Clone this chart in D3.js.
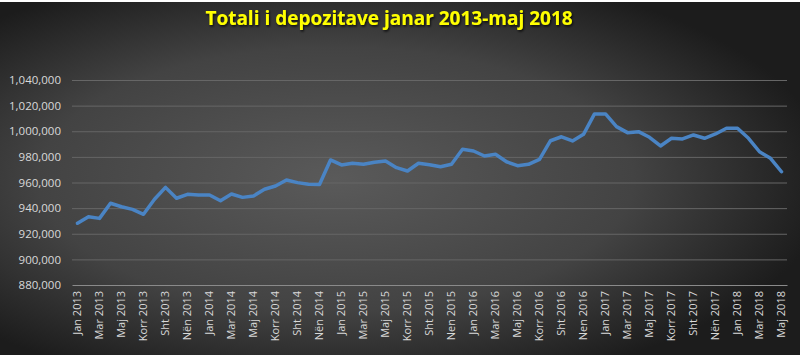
<!DOCTYPE html>
<html>
<head>
<meta charset="utf-8">
<script src="https://cdn.jsdelivr.net/npm/d3@7"></script>
<style>
  body { margin: 0; background: #fff; }
  svg { display: block; }
</style>
</head>
<body>
<script>
let w = 800;
let h = 359;

// months shown: Jan 2013 - Maj 2018
var months = [
  "Jan 2013","Shk 2013","Mar 2013","Pri 2013","Maj 2013","Qer 2013","Korr 2013","Gus 2013","Sht 2013","Tet 2013","Nën 2013","Dhj 2013",
  "Jan 2014","Shk 2014","Mar 2014","Pri 2014","Maj 2014","Qer 2014","Korr 2014","Gus 2014","Sht 2014","Tet 2014","Nën 2014","Dhj 2014",
  "Jan 2015","Shk 2015","Mar 2015","Pri 2015","Maj 2015","Qer 2015","Korr 2015","Gus 2015","Sht 2015","Tet 2015","Nen 2015","Dhj 2015",
  "Jan 2016","Shk 2016","Mar 2016","Pri 2016","Maj 2016","Qer 2016","Korr 2016","Gus 2016","Sht 2016","Tet 2016","Nen 2016","Dhj 2016",
  "Jan 2017","Shk 2017","Mar 2017","Pri 2017","Maj 2017","Qer 2017","Korr 2017","Gus 2017","Sht 2017","Tet 2017","Nën 2017","Dhj 2017",
  "Jan 2018","Shk 2018","Mar 2018","Pri 2018","Maj 2018"
];

var deposits = [
  928200, 933300, 932000, 943800, 941100, 939000, 935200, 946900, 956200, 947700, 950800, 950300,
  950300, 945800, 951000, 948400, 949500, 954700, 957300, 962000, 959900, 958600, 958500, 977600,
  973700, 975000, 974200, 975800, 976800, 971600, 969000, 975000, 973900, 972300, 974200, 985900,
  984600, 980700, 982000, 976200, 973100, 974200, 978100, 992600, 995700, 992400, 997600, 1013500,
  1013500, 1003600, 998900, 999700, 995300, 988500, 994500, 994000, 997100, 994500, 997900, 1002300,
  1002300, 994500, 984000, 978900, 968400
];

var yTicks = [880000, 900000, 920000, 940000, 960000, 980000, 1000000, 1020000, 1040000];

var chartTitle = "Totali i depozitave janar 2013-maj 2018";

let plot = { left: 72, right: 787, top: 80, bottom: 285 };

let svg = d3.select("body").append("svg").attr("width", w).attr("height", h);

// background
let defs = svg.append("defs");
let grad = defs.append("radialGradient")
  .attr("id", "bg")
  .attr("cx", "42%").attr("cy", "50%").attr("r", "62%");
grad.append("stop").attr("offset", "0%").attr("stop-color", "#5a5a5a");
grad.append("stop").attr("offset", "60%").attr("stop-color", "#434343");
grad.append("stop").attr("offset", "100%").attr("stop-color", "#1c1c1c");

let shadow = defs.append("filter").attr("id", "shadow")
  .attr("x", "-5%").attr("y", "-30%").attr("width", "110%").attr("height", "160%");
shadow.append("feDropShadow")
  .attr("dx", 1).attr("dy", 1.5).attr("stdDeviation", 1.2)
  .attr("flood-color", "#000").attr("flood-opacity", 0.8);

svg.append("rect")
  .attr("x", 0).attr("y", 2)
  .attr("width", w).attr("height", 353)
  .attr("fill", "url(#bg)");

// title
svg.append("text")
  .text(chartTitle)
  .attr("x", 389)
  .attr("y", 25)
  .attr("text-anchor", "middle")
  .attr("filter", "url(#shadow)")
  .style("font-family", "'Open Sans', sans-serif")
  .style("font-weight", "bold")
  .style("font-size", "19px")
  .style("fill", "#ffff00");

let xScale = d3.scaleBand()
  .domain(months)
  .range([plot.left, plot.right]);

let yScale = d3.scaleLinear()
  .domain([880000, 1040000])
  .range([plot.bottom, plot.top]);

// gridlines
svg.append("g")
  .selectAll("line")
  .data(yTicks.slice(1))
  .enter()
  .append("line")
  .attr("x1", plot.left)
  .attr("x2", plot.right)
  .attr("y1", function(d) { return yScale(d) + 0.5; })
  .attr("y2", function(d) { return yScale(d) + 0.5; })
  .attr("stroke", "#666666")
  .attr("stroke-width", 1);

// y axis labels
let yAxis = d3.axisLeft(yScale)
  .tickValues(yTicks)
  .tickSize(0)
  .tickPadding(10)
  .tickFormat(d3.format(",.0f"));

let gy = svg.append("g")
  .attr("transform", "translate(" + (plot.left - 1) + ",0)")
  .call(yAxis);
gy.select(".domain").remove();
gy.selectAll("text")
  .style("font-family", "'Open Sans', sans-serif")
  .style("font-size", "11.5px")
  .style("fill", "#d9d9d9");

// x axis
let xAxis = d3.axisBottom(xScale)
  .tickValues(months.filter(function(d, i) { return i % 2 === 0; }))
  .tickSize(0)
  .tickPadding(6);

let gx = svg.append("g")
  .attr("transform", "translate(0," + plot.bottom + ")")
  .call(xAxis);
gx.select(".domain")
  .attr("stroke", "#8a8a8a")
  .attr("stroke-width", 1);
gx.selectAll("text")
  .attr("transform", "rotate(-90)")
  .attr("x", -6)
  .attr("y", 0)
  .attr("dy", "0.35em")
  .style("text-anchor", "end")
  .style("font-family", "'Open Sans', sans-serif")
  .style("font-size", "11px")
  .style("fill", "#d9d9d9");

// line
let line = d3.line()
  .x(function(d, i) { return xScale(months[i]) + xScale.bandwidth() / 2; })
  .y(function(d) { return yScale(d); });

svg.append("path")
  .datum(deposits)
  .attr("d", line)
  .attr("fill", "none")
  .attr("stroke", "#4a84c4")
  .attr("stroke-width", 3.5)
  .attr("stroke-linejoin", "round")
  .attr("stroke-linecap", "round");
</script>
</body>
</html>
